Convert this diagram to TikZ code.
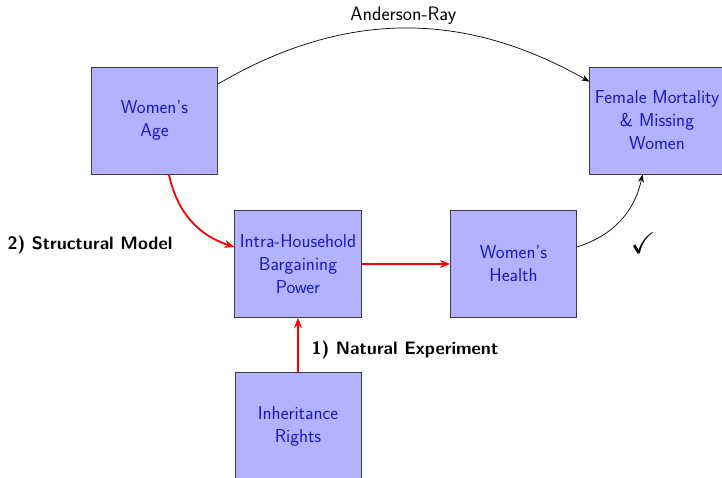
\documentclass[tikz,border=0pt]{standalone}
\usepackage{fontspec}
\usepackage{amssymb}
\usetikzlibrary{arrows.meta}
\definecolor{boxfill}{RGB}{178,178,255}
\definecolor{boxtext}{RGB}{25,25,195}
\definecolor{boxline}{RGB}{60,60,70}
\begin{document}
\begin{tikzpicture}[x=1pt,y=-1pt,
  font=\sffamily\fontsize{18.7}{23}\selectfont,
  factor/.style={draw=boxline, line width=0.9pt, fill=boxfill, text=boxtext,
    minimum width=126pt, minimum height=107pt, inner sep=5pt, align=center},
  causal/.style={draw=red, line width=1.8pt, -{Stealth[length=10pt,width=8pt]}},
  link/.style={draw=black, line width=0.7pt, -{Stealth[length=8pt,width=6pt]}},
  method/.style={font=\sffamily\bfseries\fontsize{18}{23}\selectfont}]
  \useasboundingbox (0,0) rectangle (722,478);
  \begin{scope}
    \clip (0,0) rectangle (722,478);
    % factors
    \node[factor] (age) at (154.5,120.5) {Women's\\Age};
    \node[factor] (fm) at (657,120.5) {Female Mortality\\\& Missing\\Women};
    \node[factor] (ih) at (298,264) {Intra-Household\\Bargaining\\Power};
    \node[factor] (health) at (513.5,264) {Women's\\Health};
    \node[factor] (inh) at (298,426) {Inheritance\\Rights};
    % established link
    \draw[link] (age) to[bend left=30] node[above, font=\sffamily\fontsize{19.5}{23}\selectfont] (ar) {Anderson-Ray} (fm);
    \draw[link] (health) to[bend right=30] (fm);
    % mechanism
    \draw[causal] (age) to[bend right=30] (ih);
    \draw[causal] (ih) -- (health);
    \draw[causal] (inh) -- (ih);
    % annotations
    \node[method] (sm) at (90,245) {2) Structural Model};
    \node[method] (ne) at (405,350) {1) Natural Experiment};
    \node[font=\fontsize{30}{36}\selectfont] (ok) at (643,243) {$\checkmark$};
  \end{scope}
\end{tikzpicture}
\end{document}
